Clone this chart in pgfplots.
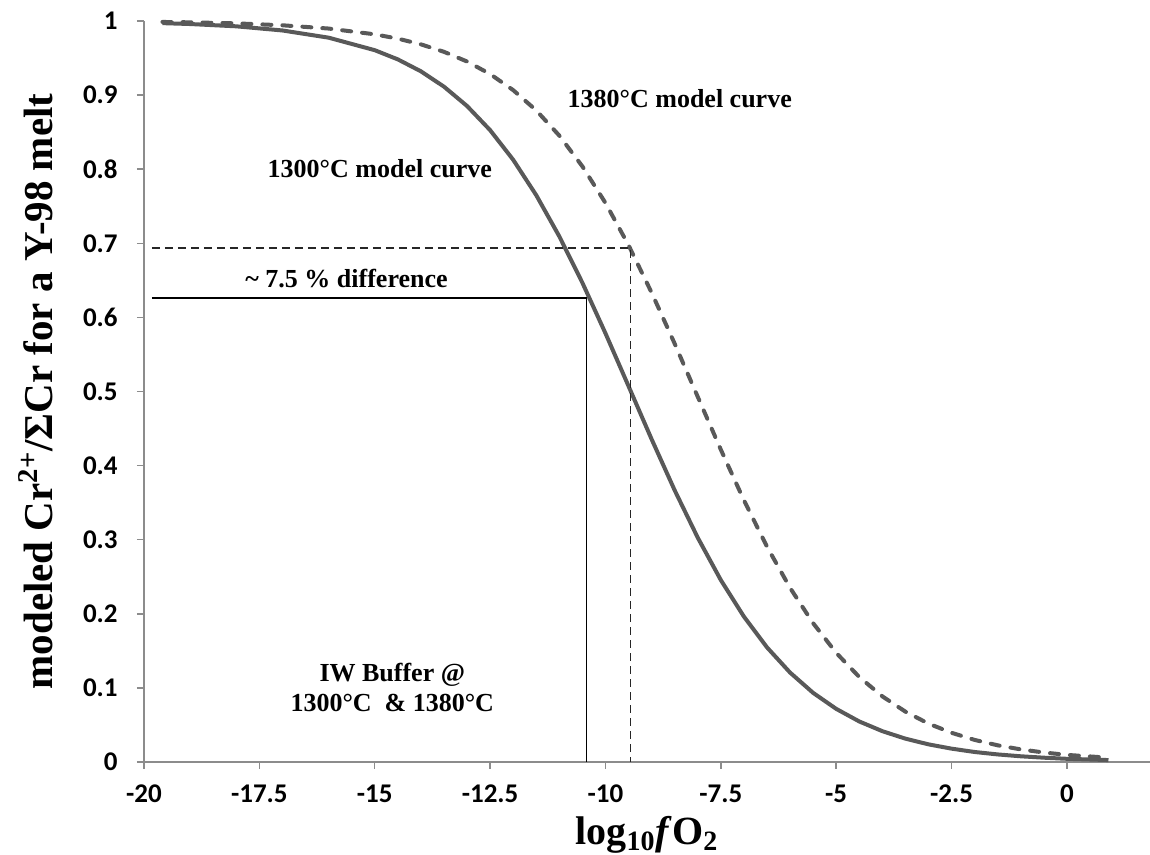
\documentclass[border=0pt]{standalone}
\usepackage{fontspec}
\setmainfont{Liberation Serif}
\newfontfamily\calib{Carlito}[BoldFont={Carlito Bold}]
\usepackage{pgfplots}
\pgfplotsset{compat=1.18}
\definecolor{curvegray}{HTML}{595959}
\definecolor{axisgray}{HTML}{8C8C8C}
\begin{document}
\begin{tikzpicture}
\begin{axis}[
  scale only axis, width=503pt, height=370.5pt,
  xmin=-20, xmax=1.8, ymin=0, ymax=1,
  axis lines*=left,
  axis line style={axisgray, line width=0.75pt},
  every tick/.style={axisgray, line width=0.75pt},
  tick align=outside, major tick length=3.5pt,
  xtick={-20,-17.5,-15,-12.5,-10,-7.5,-5,-2.5,0},
  xticklabels={-20,-17.5,-15,-12.5,-10,-7.5,-5,-2.5,0},
  ytick={0,0.1,0.2,0.3,0.4,0.5,0.6,0.7,0.8,0.9,1},
  yticklabels={0,0.1,0.2,0.3,0.4,0.5,0.6,0.7,0.8,0.9,1},
  tick label style={font=\calib\bfseries\fontsize{13.5}{15}\selectfont},
  yticklabel style={anchor=east, inner xsep=0pt, xshift=-9.5pt},
  xticklabel style={anchor=north, yshift=-4.5pt},
  xlabel={\bfseries log\textsubscript{10}\textit{f}O\textsubscript{2}},
  ylabel={\bfseries modeled Cr\textsuperscript{2+}/ΣCr for a Y-98 melt},
  xlabel style={font=\fontsize{20}{24}\selectfont, at={(axis description cs:0.5,-0.111)}, anchor=base},
  ylabel style={font=\fontsize{20.5}{24}\selectfont, at={(axis description cs:-0.0905,0.5)}, rotate=0, anchor=base},
  clip=false,
]
% 1300 C model curve (solid)
\addplot[curvegray, line width=2pt, line join=round] coordinates {
(-19.6,0.9971) (-19,0.9959) (-18,0.9928) (-17,0.9872) (-16,0.9775)
(-15,0.9606) (-14.5,0.9482) (-14,0.9321) (-13.5,0.9114) (-13,0.8853)
(-12.5,0.8527) (-12,0.8127) (-11.5,0.7649) (-11,0.7093) (-10.5,0.6467)
(-10,0.5785) (-9.5,0.5072) (-9,0.4356) (-8.5,0.3666) (-8,0.3027)
(-7.5,0.2455) (-7,0.1962) (-6.5,0.1547) (-6,0.1207) (-5.5,0.0933)
(-5,0.0717) (-4.5,0.0547) (-4,0.0416) (-3.5,0.0315) (-3,0.0238)
(-2.5,0.0180) (-2,0.0135) (-1.5,0.0102) (-1,0.0077) (-0.5,0.0058)
(0,0.0043) (0.9,0.0026)
};
% 1380 C model curve (dashed)
\addplot[curvegray, line width=2pt, line cap=round, dash pattern=on 4.5pt off 5.5pt] coordinates {
(-19.6,0.9987) (-19,0.9982) (-18,0.9968) (-17,0.9942) (-16,0.9898)
(-15,0.9820) (-14.5,0.9762) (-14,0.9685) (-13.5,0.9584) (-13,0.9453)
(-12.5,0.9284) (-12,0.9067) (-11.5,0.8793) (-11,0.8453) (-10.5,0.8038)
(-10,0.7544) (-9.5,0.6974) (-9,0.6334) (-8.5,0.5645) (-8,0.4928)
(-7.5,0.4215) (-7,0.3533) (-6.5,0.2906) (-6,0.2350) (-5.5,0.1873)
(-5,0.1473) (-4.5,0.1147) (-4,0.0886) (-3.5,0.0679) (-3,0.0518)
(-2.5,0.0394) (-2,0.0298) (-1.5,0.0225) (-1,0.0170) (-0.5,0.0128)
(0,0.0096) (0.9,0.0058)
};
% reference lines
\addplot[black, line width=0.8pt] coordinates {(-19.83,0.626) (-10.41,0.626) (-10.41,0)};
\addplot[black!85, line width=0.8pt, dash pattern=on 4pt off 2.5pt] coordinates {(-19.83,0.694) (-9.46,0.694) (-9.46,0)};
% annotations
\node[font=\bfseries\fontsize{13}{15}\selectfont, anchor=base] at (axis cs:-8.39,0.883) {1380°C model curve};
\node[font=\bfseries\fontsize{13}{15}\selectfont, anchor=base] at (axis cs:-14.89,0.789) {1300°C model curve};
\node[font=\bfseries\fontsize{13}{15}\selectfont, anchor=base] at (axis cs:-15.61,0.641) {\textasciitilde\ 7.5 \% difference};
\node[font=\bfseries\fontsize{13}{15}\selectfont, anchor=base] at (axis cs:-14.62,0.109) {IW Buffer @};
\node[font=\bfseries\fontsize{13}{15}\selectfont, anchor=base] at (axis cs:-14.62,0.068) {1300°C\ \ \& 1380°C};
\end{axis}
\pgfresetboundingbox
\path ([shift={(-72pt,-46.5pt)}]current axis.south west) rectangle ([shift={(0pt,10.5pt)}]current axis.north east);
\end{tikzpicture}
\end{document}
